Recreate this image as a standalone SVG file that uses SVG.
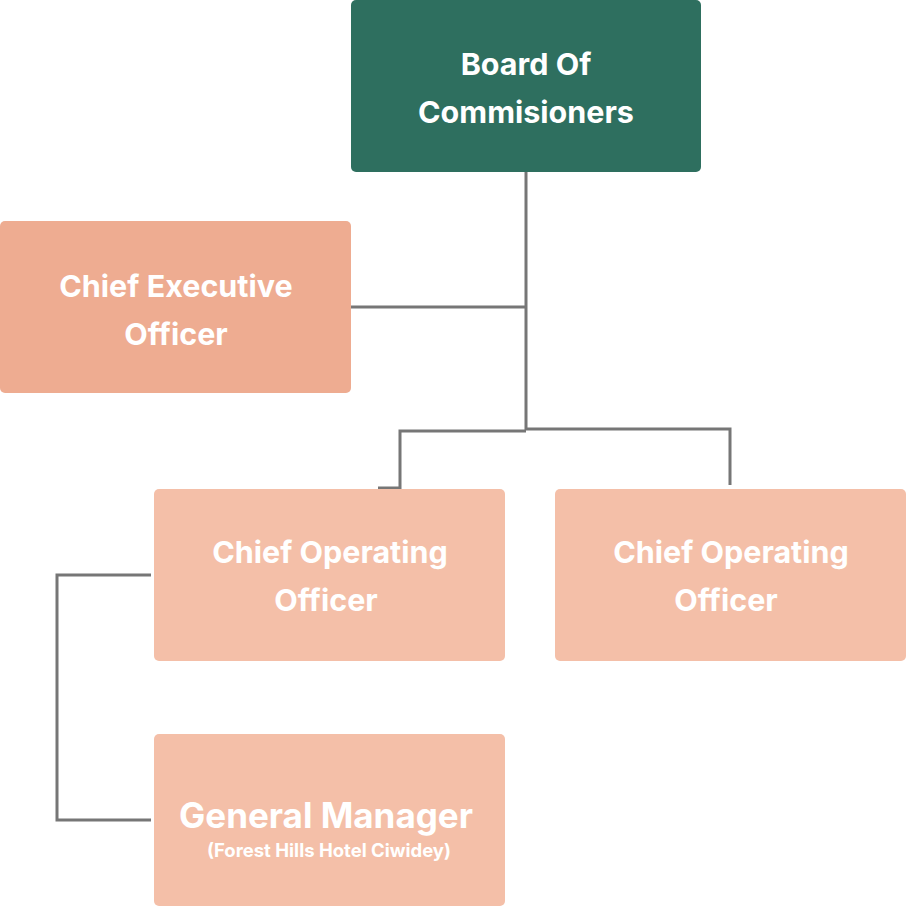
<svg xmlns="http://www.w3.org/2000/svg" width="906" height="907" viewBox="0 0 906 907">
<style>
.t{font-family:Inter,"Noto Sans",sans-serif;font-weight:700;fill:#fff;text-anchor:middle}
.c{fill:none;stroke:#767676;stroke-width:3;stroke-linejoin:miter}
</style>
<rect width="906" height="907" fill="#fff"/>
<g id="connectors">
<path class="c" d="M526 172V430"/>
<path class="c" d="M351 307H526"/>
<path class="c" d="M526 431H400V488H378"/>
<path class="c" d="M526 429H730V485"/>
<path class="c" d="M151 575H57V820H151"/>
</g>
<g id="board">
<rect x="351" y="0" width="350" height="172" rx="5" fill="#2E6F5F"/>
<text class="t" x="526" y="75" font-size="30.5">Board Of</text>
<text class="t" x="526" y="123" font-size="30.5">Commisioners</text>
</g>
<g id="ceo">
<rect x="0" y="221" width="351" height="172" rx="5" fill="#EEAC91"/>
<text class="t" x="176" y="297" font-size="30.5">Chief Executive</text>
<text class="t" x="176" y="345" font-size="30.5">Officer</text>
</g>
<g id="coo1">
<rect x="154" y="489" width="351" height="172" rx="5" fill="#F4BFA8"/>
<text class="t" x="330" y="563" font-size="30.5">Chief Operating</text>
<text class="t" x="326" y="611" font-size="30.5">Officer</text>
</g>
<g id="coo2">
<rect x="555" y="489" width="351" height="172" rx="5" fill="#F4BFA8"/>
<text class="t" x="731" y="563" font-size="30.5">Chief Operating</text>
<text class="t" x="726" y="611" font-size="30.5">Officer</text>
</g>
<g id="gm">
<rect x="154" y="734" width="351" height="172" rx="5" fill="#F4BFA8"/>
<text class="t" x="326" y="828" font-size="35">General Manager</text>
<text class="t" x="329" y="857" font-size="18.5">(Forest Hills Hotel Ciwidey)</text>
</g>
</svg>
